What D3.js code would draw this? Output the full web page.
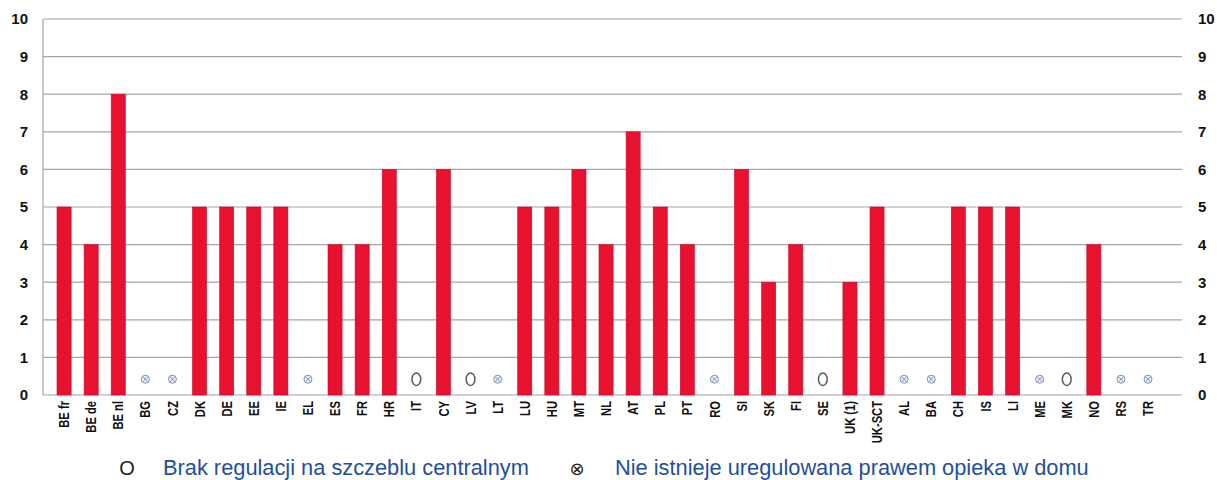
<!DOCTYPE html>
<html>
<head>
<meta charset="utf-8">
<script src="https://cdn.jsdelivr.net/npm/d3@7"></script>
<style>
  html, body { margin: 0; padding: 0; background: #fff; }
  svg { display: block; }
</style>
</head>
<body>
<svg id="chart" width="1217" height="480"></svg>
<script>
// Countries / regions along the x axis
const categories = ["BE fr","BE de","BE nl","BG","CZ","DK","DE","EE","IE","EL","ES","FR","HR","IT","CY","LV","LT","LU","HU","MT","NL","AT","PL","PT","RO","SI","SK","FI","SE","UK (1)","UK-SCT","AL","BA","CH","IS","LI","ME","MK","NO","RS","TR"];

// Bar values (null where there is no bar)
const values = [5,4,8,null,null,5,5,5,5,null,4,4,6,null,6,null,null,5,5,6,4,7,5,4,null,6,3,4,null,3,5,null,null,5,5,5,null,null,4,null,null];

// Markers for countries without a bar: "none" = no central regulation, "nohome" = no regulated home care
const markers = [null,null,null,"nohome","nohome",null,null,null,null,"nohome",null,null,null,"none",null,"none","nohome",null,null,null,null,null,null,null,"nohome",null,null,null,"none",null,null,"nohome","nohome",null,null,null,"nohome","none",null,"nohome","nohome"];

const yTicks = [0,1,2,3,4,5,6,7,8,9,10];

const legendItems = [
  { symbol: "O", label: "Brak regulacji na szczeblu centralnym" },
  { symbol: "\u2297", label: "Nie istnieje uregulowana prawem opieka w domu" }
];

const svg = d3.select("#chart");
const frame = { left: 43, right: 1182, top: 19, bottom: 395 };

const x = d3.scaleBand()
  .domain(categories)
  .range([50.5, 1161.6])
  .paddingInner(0.48)
  .paddingOuter(0.24);

const y = d3.scaleLinear().domain([0, 10]).range([frame.bottom, frame.top]);

// Horizontal gridlines
svg.append("g")
  .selectAll("line")
  .data(yTicks)
  .join("line")
  .attr("x1", frame.left).attr("x2", frame.right)
  .attr("y1", d => y(d)).attr("y2", d => y(d))
  .attr("stroke", "#a6a6a6")
  .attr("stroke-width", 1.2);

// Left frame line
svg.append("line")
  .attr("x1", frame.left).attr("x2", frame.left)
  .attr("y1", frame.top).attr("y2", frame.bottom)
  .attr("stroke", "#a6a6a6").attr("stroke-width", 1.2);

// Y tick labels on both sides
const tickFont = "'Liberation Sans', Arial, sans-serif";
[{ xPos: 28, anchor: "end" }, { xPos: 1198, anchor: "start" }].forEach(side => {
  svg.append("g")
    .selectAll("text")
    .data(yTicks)
    .join("text")
    .attr("x", side.xPos)
    .attr("y", d => y(d))
    .attr("dy", "0.36em")
    .attr("text-anchor", side.anchor)
    .attr("font-family", tickFont)
    .attr("font-weight", "bold")
    .attr("font-size", 15)
    .attr("fill", "#111")
    .text(d => d);
});

// Bars
const rows = categories.map((c, i) => ({ cat: c, value: values[i], marker: markers[i] }));

svg.append("g")
  .selectAll("rect")
  .data(rows.filter(d => d.value != null))
  .join("rect")
  .attr("x", d => x(d.cat))
  .attr("width", x.bandwidth())
  .attr("y", d => y(d.value))
  .attr("height", d => y(0) - y(d.value))
  .attr("fill", "#e8112f")
  .attr("stroke", "#c70d28")
  .attr("stroke-width", 0.6);

// Markers for categories without bars
const markY = y(0.42);
const mk = svg.append("g");
rows.filter(d => d.marker === "none").forEach(d => {
  mk.append("ellipse")
    .attr("cx", x(d.cat) + x.bandwidth() / 2)
    .attr("cy", markY)
    .attr("rx", 4.4).attr("ry", 6.2)
    .attr("fill", "none")
    .attr("stroke", "#5a5a5a")
    .attr("stroke-width", 1.5);
});
rows.filter(d => d.marker === "nohome").forEach(d => {
  const cx = x(d.cat) + x.bandwidth() / 2;
  const g = mk.append("g").attr("transform", `translate(${cx},${markY})`);
  g.append("circle").attr("r", 4).attr("fill", "#eef0f7").attr("stroke", "#7f8fb5").attr("stroke-width", 1);
  g.append("path").attr("d", "M-2.3,-2.3L2.3,2.3M2.3,-2.3L-2.3,2.3").attr("stroke", "#7f8fb5").attr("stroke-width", 1);
});

// Rotated category labels (condensed bold)
svg.append("g")
  .selectAll("text")
  .data(categories)
  .join("text")
  .attr("transform", d => `translate(${x(d) + x.bandwidth() / 2},401) rotate(-90) scale(0.8,1)`)
  .attr("dy", "0.36em")
  .attr("text-anchor", "end")
  .attr("font-family", tickFont)
  .attr("font-weight", "bold")
  .attr("font-size", 14)
  .attr("fill", "#111")
  .text(d => d);

// Legend
const legend = svg.append("g").attr("font-family", "'Liberation Sans', Arial, sans-serif");
const legendPos = [
  { sx: 127, tx: 163 },
  { sx: 577, tx: 615 }
];
legendItems.forEach((item, i) => {
  legend.append("text")
    .attr("x", legendPos[i].sx).attr("y", 475)
    .attr("text-anchor", "middle")
    .attr("font-family", i === 0 ? "'Liberation Sans', Arial, sans-serif" : "'DejaVu Sans', sans-serif")
    .attr("font-size", i === 0 ? 20 : 18)
    .attr("fill", "#222")
    .text(item.symbol);
  legend.append("text")
    .attr("x", legendPos[i].tx).attr("y", 475)
    .attr("font-size", 21.8)
    .attr("fill", "#1f4f9c")
    .text(item.label);
});
</script>
</body>
</html>
